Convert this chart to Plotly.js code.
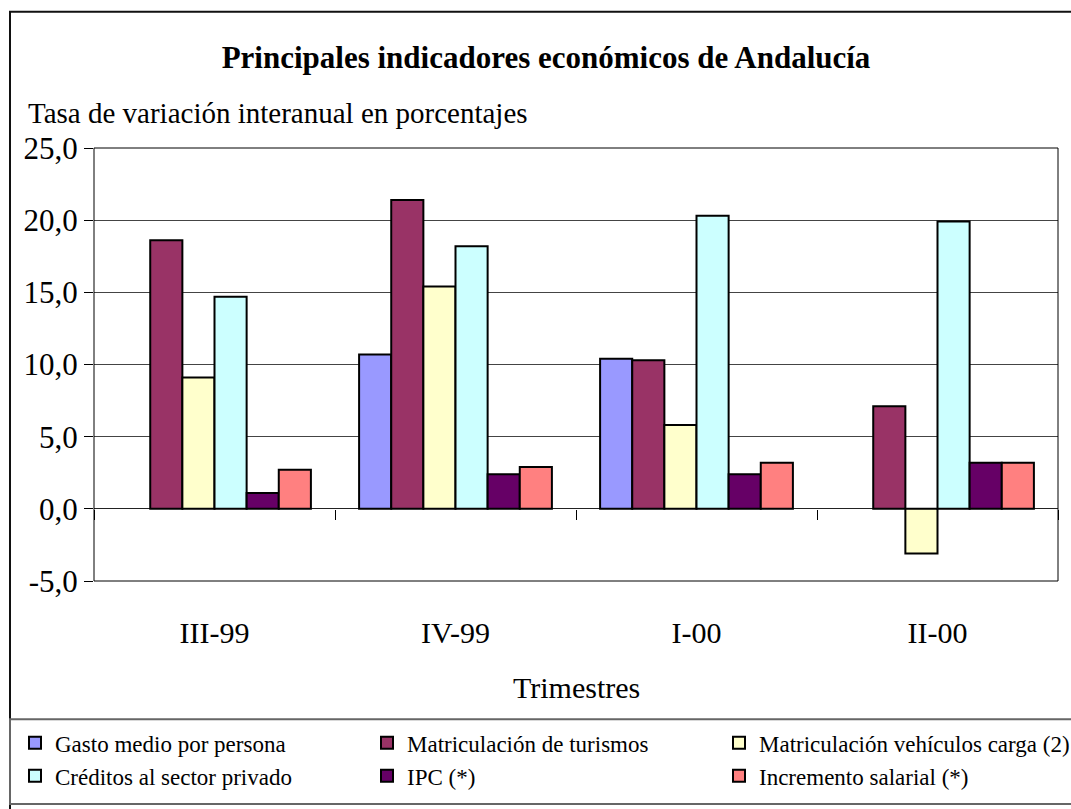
<!DOCTYPE html>
<html><head><meta charset="utf-8">
<script src="https://cdn.plot.ly/plotly-3.0.1.min.js"></script>
<style>html,body{margin:0;padding:0;background:#fff;}#chart{width:1071px;height:809px;}</style>
</head><body><div id="chart"></div>
<script>
// ---- data ----
const categories = ['III-99', 'IV-99', 'I-00', 'II-00'];
const gastoMedio = [null, 10.7, 10.4, null];
const matTurismos = [18.6, 21.4, 10.3, 7.1];
const matCarga = [9.1, 15.4, 5.8, -3.1];
const creditos = [14.7, 18.2, 20.3, 19.9];
const ipc = [1.1, 2.4, 2.4, 3.2];
const incrementoSalarial = [2.7, 2.9, 3.2, 3.2];
const seriesNames = ['Gasto medio por persona', 'Matriculación de turismos', 'Matriculación vehículos carga (2)',
                     'Créditos al sector privado', 'IPC (*)', 'Incremento salarial (*)'];
const seriesValues = [gastoMedio, matTurismos, matCarga, creditos, ipc, incrementoSalarial];
const yTickVals = [-5, 0, 5, 10, 15, 20, 25];
const yTickText = yTickVals.map(v => v.toFixed(1).replace('.', ','));
const titleText = 'Principales indicadores económicos de Andalucía';
const yTitleText = 'Tasa de variación interanual en porcentajes';
const xTitleText = 'Trimestres';

// ---- styles ----
const seriesColors = ['#9999FF', '#993366', '#FFFFCC', '#CCFFFF', '#660066', '#FF8080'];
const FONT = 'Liberation Serif';
const W = 1071, H = 809, L = 94, R = 13, T = 148, B = 226;
const pw = W - L - R, ph = H - T - B;
const px2x = px => (px - L) / pw;
const py2y = py => (H - B - py) / ph;
const yMin = yTickVals[0], yMax = yTickVals[yTickVals.length - 1];
const zeroPos = (0 - yMin) / (yMax - yMin);

const traces = seriesValues.map((vals, i) => ({
  type: 'bar', name: seriesNames[i], x: categories, y: vals,
  marker: {color: seriesColors[i], line: {color: '#000', width: 2}},
  hoverinfo: 'x+y+name'
}));

const layout = {
  width: W, height: H,
  margin: {l: L, r: R, t: T, b: B},
  paper_bgcolor: '#fff', plot_bgcolor: '#fff',
  separators: ',.',
  font: {family: FONT, color: '#000'},
  title: {text: '<b>' + titleText + '</b>', font: {family: FONT, size: 31, color: '#000'},
          xref: 'container', x: 546 / W, xanchor: 'center',
          yref: 'container', y: 1 - 57 / H, yanchor: 'middle'},
  barmode: 'group', bargap: 0.2, bargroupgap: 0,
  xaxis: {type: 'category', range: [-0.5, categories.length - 0.5], anchor: 'free', position: zeroPos,
          ticks: 'outside', tickson: 'boundaries', ticklen: 10, tickcolor: '#000', tickwidth: 1,
          showline: false, showgrid: false, zeroline: false,
          tickfont: {family: FONT, size: 30, color: '#000'}, ticklabelstandoff: 103, fixedrange: true},
  yaxis: {range: [yMin, yMax], tickmode: 'array', tickvals: yTickVals, ticktext: yTickText,
          ticks: 'outside', ticklen: 9, tickcolor: '#000', tickwidth: 1,
          showgrid: true, gridcolor: '#444', gridwidth: 1,
          zeroline: true, zerolinecolor: '#222', zerolinewidth: 1, showline: false,
          tickfont: {family: FONT, size: 31, color: '#000'}, fixedrange: true},
  legend: {orientation: 'h', xref: 'paper', yref: 'paper',
           x: px2x(17), xanchor: 'left', y: py2y(724), yanchor: 'top',
           entrywidth: 307, entrywidthmode: 'pixels', traceorder: 'normal',
           font: {family: FONT, size: 23, color: '#000'},
           bgcolor: 'rgba(0,0,0,0)', borderwidth: 0},
  annotations: [
    {text: yTitleText, xref: 'paper', yref: 'paper', x: px2x(26), xanchor: 'left',
     y: py2y(113), yanchor: 'middle', showarrow: false, font: {family: FONT, size: 29, color: '#000'}},
    {text: xTitleText, xref: 'paper', yref: 'paper', x: 0.5, xanchor: 'center',
     y: py2y(690), yanchor: 'middle', showarrow: false, font: {family: FONT, size: 30, color: '#000'}}
  ],
  shapes: [
    {type: 'rect', xref: 'paper', yref: 'paper', x0: px2x(10), x1: px2x(1100), y0: py2y(11), y1: py2y(840),
     line: {color: '#111', width: 2}, fillcolor: 'rgba(0,0,0,0)', layer: 'below'},
    {type: 'rect', xref: 'paper', yref: 'paper', x0: px2x(10), x1: px2x(1100), y0: py2y(722), y1: py2y(807),
     line: {color: '#666', width: 2}, fillcolor: 'rgba(0,0,0,0)', layer: 'below'},
    {type: 'rect', xref: 'paper', yref: 'paper', x0: 0, x1: 1, y0: 0, y1: 1,
     line: {color: '#000', width: 1}, fillcolor: 'rgba(0,0,0,0)', layer: 'above'}
  ]
};

Plotly.newPlot('chart', traces, layout, {displayModeBar: false, responsive: false});
</script>
</body></html>
